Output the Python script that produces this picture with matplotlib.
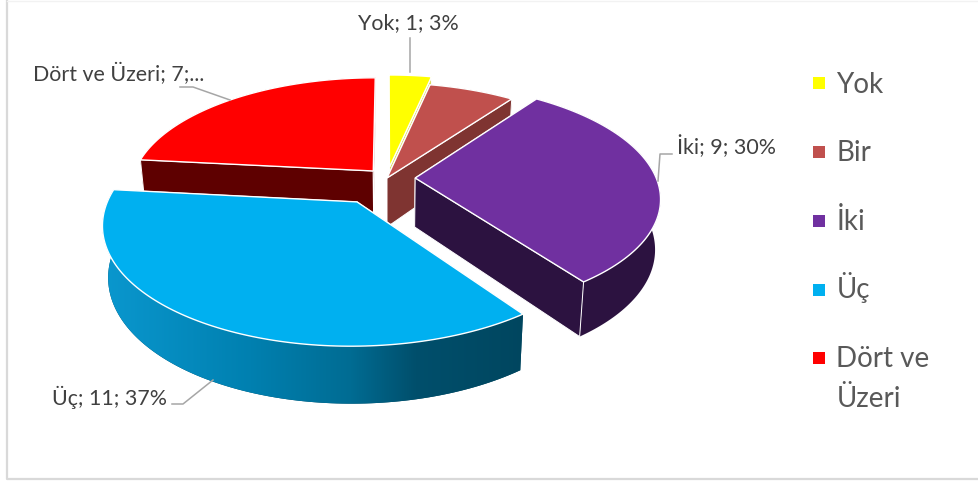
import numpy as np
import matplotlib
matplotlib.use("Agg")
import matplotlib.pyplot as plt
from matplotlib.patches import Polygon, Rectangle
from matplotlib.colors import to_rgb

plt.rcParams['font.family'] = ['Lato', 'DejaVu Sans']

categories = ['Yok', 'Bir', 'İki', 'Üç', 'Dört ve Üzeri']
values = [1, 2, 9, 11, 7]
explode = [0.10, 0.0, 0.117, 0.24, 0.086]
top_colors = ['#FFFF00', '#C0504D', '#7030A0', '#00B0F0', '#FF0000']
side_colors = ['#D9D95A', '#7F3431', '#2C1240', '#00465F', '#5E0000']

# pie geometry in pixels, with a simple perspective squeeze towards the back
cx, cy = 387, 178
scale_x, scale_y = 241, 111
persp = 0.168

# Üç gets a shaded rim, lighter on the left
rim_x = [105, 250, 350, 415, 525]
rim_cols = ['#0A97CE', '#0080B0', '#006C93', '#004F6C', '#00465F']


def project(X, Y):
    w = 1 + persp * Y
    return cx + scale_x * X / w, cy - scale_y * Y / w


def drop(X, Y):
    # same point on the underside of the pie
    x, y = project(X, Y)
    return x - (x - cx) * 0.02, y + 49 - 7 * Y


def shaded_rim(ax, patch, z):
    xs = np.arange(90, 540)
    rgb = np.array([to_rgb(c) for c in rim_cols])
    strip = np.column_stack([np.interp(xs, rim_x, rgb[:, n]) for n in range(3)])
    im = ax.imshow(strip[np.newaxis, :, :], extent=(90, 540, 484, 0), aspect='auto', zorder=z)
    im.set_clip_path(patch)


def draw_slice(ax, i, start, end, z):
    mid = np.radians((start + end) / 2)
    ox, oy = explode[i] * np.sin(mid), explode[i] * np.cos(mid)
    th = np.radians(np.linspace(start, end, 120))
    X, Y = np.sin(th) + ox, np.cos(th) + oy

    apex = np.array(project(ox, oy))
    apex_low = np.array(drop(ox, oy))
    top = np.column_stack(project(X, Y))
    low = np.column_stack(drop(X, Y))
    shaded = categories[i] == 'Üç'

    # the two cut faces go over the outer wall, except on the shaded slice
    for k in (0, -1):
        face = [apex, top[k], low[k], apex_low]
        ax.add_patch(Polygon(face, fc=side_colors[i], ec='white', lw=0.7,
                             zorder=z if shaded else z + 0.25))

    # outer wall
    wall = Polygon(np.vstack([top, low[::-1]]), fc=side_colors[i], ec='none', zorder=z + 0.1)
    ax.add_patch(wall)
    if shaded:
        shaded_rim(ax, wall, z + 0.2)

    ax.add_patch(Polygon(np.vstack([apex, top]), fc=top_colors[i], ec='white', lw=1.0, zorder=z + 0.3))


fig = plt.figure(figsize=(9.79, 4.84), dpi=100)
ax = fig.add_axes([0, 0, 1, 1])
ax.axis('off')

# chart frame
ax.plot([7, 7, 979], [1, 479, 479], color='#D9D9D9', lw=1.6)
ax.plot([7, 979], [1, 1], color='#F2F2F2', lw=1.0)

edges = np.concatenate([[0], np.cumsum(values)]) / sum(values) * 360
# back slices first, the exploded front ones over them
for z, i in enumerate([0, 4, 1, 2, 3]):
    draw_slice(ax, i, edges[i], edges[i + 1], z + 3)

ax.set_xlim(0, 979)
ax.set_ylim(484, 0)
ax.set_aspect('auto')

# leader lines
leaders = [
    ([410, 410], [38, 72]),
    ([180, 193, 230], [87, 87, 100]),
    ([672, 660, 658], [154, 154, 181]),
    ([172, 183, 213], [404, 404, 380]),
]
for lx, ly in leaders:
    ax.plot(lx, ly, color='#A6A6A6', lw=1.1, zorder=10)

total = sum(values)
pct = [round(v / total * 100) for v in values]
label_color = '#404040'
label_size = 15.4
ax.text(358, 29, f"{categories[0]}; {values[0]}; {pct[0]}%", fontsize=label_size, color=label_color, zorder=11)
ax.text(677, 154, f"{categories[2]}; {values[2]}; {pct[2]}%", fontsize=label_size, color=label_color, zorder=11)
ax.text(52, 405, f"{categories[3]}; {values[3]}; {pct[3]}%", fontsize=label_size, color=label_color, zorder=11)
ax.text(33, 81, f"{categories[4]}; {values[4]};...", fontsize=label_size, color=label_color, zorder=11)

# legend
legend_y = [83, 152, 221, 290, 358]
legend_base = [93, 161, 230, 298, 367]
legend_text = ['Yok', 'Bir', 'İki', 'Üç', 'Dört ve']
for i in range(5):
    ax.add_patch(Rectangle((813.5, legend_y[i] - 6), 12, 12, fc=top_colors[i], ec='none'))
    ax.text(836.5, legend_base[i], legend_text[i], fontsize=20, color='#595959')
ax.text(836.5, 407, 'Üzeri', fontsize=20, color='#595959')

fig.savefig('out.png', dpi=100)
